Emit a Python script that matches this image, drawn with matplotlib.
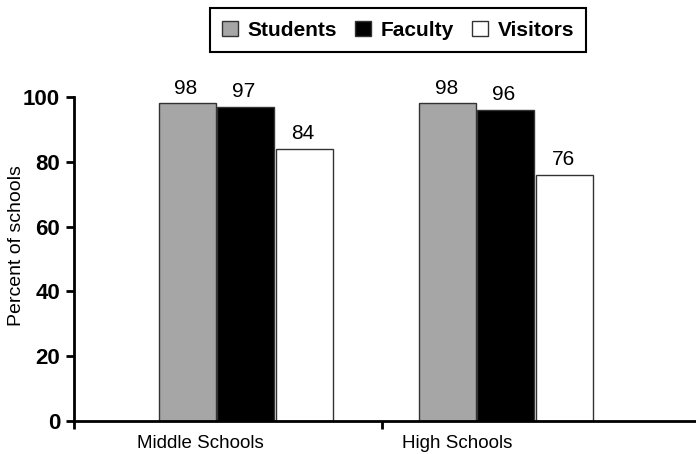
import matplotlib
matplotlib.use("Agg")
import matplotlib.pyplot as plt
from matplotlib.patches import Patch
import numpy as np

categories = ["Middle Schools", "High Schools"]
series_names = ["Students", "Faculty", "Visitors"]
students = [98, 98]
faculty = [97, 96]
visitors = [84, 76]
y_ticks = [0, 20, 40, 60, 80, 100]

colors = ["#a6a6a6", "#000000", "#ffffff"]
edge = "#333333"
font = "Liberation Sans"

fig = plt.figure(figsize=(6.96, 4.54), dpi=100)
ax = fig.add_axes([74 / 696, 33 / 454, 622 / 696, 324 / 454])

group_x = np.arange(len(categories))
offsets = [-0.222, 0.0, 0.228]
width = 0.218

for vals, off, col in zip([students, faculty, visitors], offsets, colors):
    bars = ax.bar(group_x + off, vals, width=width, color=col,
                  edgecolor=edge, linewidth=1.0, zorder=2)
    for b, v in zip(bars, vals):
        ax.annotate(f"{v}", (b.get_x() + b.get_width() / 2, v),
                    xytext=(-1, 4), textcoords="offset points",
                    ha="center", va="bottom", fontsize=15,
                    family=font, annotation_clip=False)

ax.set_xlim(-0.658, 1.733)
ax.set_ylim(0, 100)

# separators between groups as major ticks, group names as minor ticks
ax.set_xticks([-0.658, 0.527])
ax.set_xticklabels(["", ""])
ax.set_xticks([-0.173, 0.815], minor=True)
ax.set_xticklabels(categories, minor=True, fontsize=13.5, family=font)
ax.tick_params(axis="x", which="major", direction="out", length=6, width=2)
ax.tick_params(axis="x", which="minor", length=0, pad=10)

ax.set_yticks(y_ticks)
ax.set_yticklabels([str(t) for t in y_ticks], fontsize=16,
                   fontweight="bold", family=font)
ax.tick_params(axis="y", direction="out", length=6, width=2, pad=4)

ax.set_ylabel("Percent of schools", fontsize=14, family=font)
ax.yaxis.set_label_coords(-0.079, 0.54)

for s in ["top", "right"]:
    ax.spines[s].set_visible(False)
for s in ["left", "bottom"]:
    ax.spines[s].set_linewidth(2)

handles = [Patch(facecolor=c, edgecolor=edge, linewidth=1.0) for c in colors]
leg = fig.legend(handles, series_names, loc="center",
                 bbox_to_anchor=(398 / 696, 1 - 30 / 454), ncol=3,
                 frameon=True, fancybox=False, framealpha=1,
                 prop={"family": font, "weight": "bold", "size": 15},
                 handlelength=0.75, handleheight=0.75, handletextpad=0.45,
                 columnspacing=0.9, borderpad=0.6)
leg.get_frame().set_edgecolor("black")
leg.get_frame().set_linewidth(1.5)

fig.savefig("out.png", dpi=100)
